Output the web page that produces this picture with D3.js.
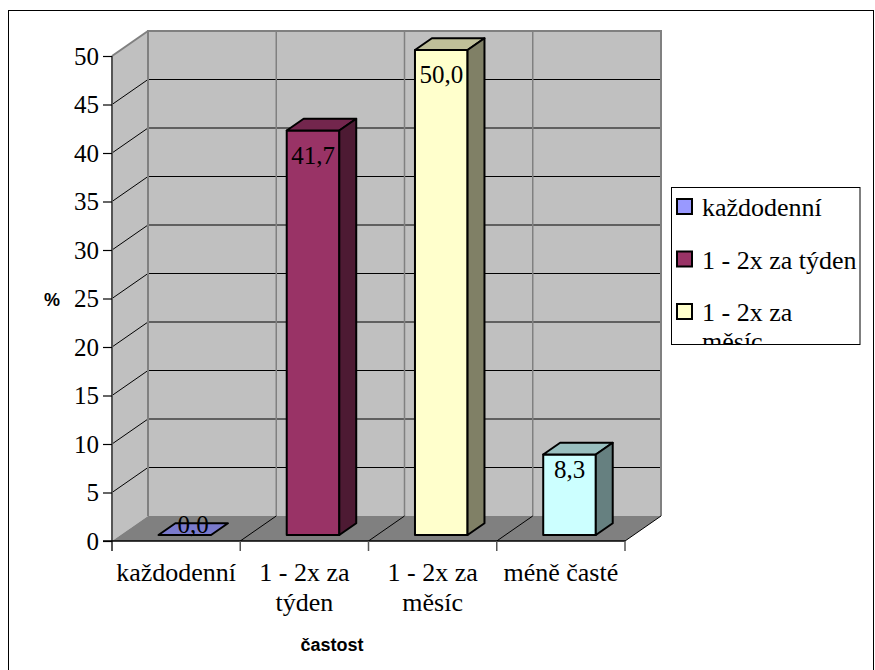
<!DOCTYPE html>
<html>
<head>
<meta charset="utf-8">
<script src="https://cdn.jsdelivr.net/npm/d3@7"></script>
<style>
  body { margin: 0; background: #fff; }
  svg { display: block; }
  .serif { font-family: 'Liberation Serif', 'Tinos', 'DejaVu Serif', serif; }
  .sans { font-family: 'Liberation Sans', Arial, sans-serif; font-weight: bold; }
</style>
</head>
<body>
<div id="chart"></div>
<script>
// data
const categories = ['každodenní', '1 - 2x za týden', '1 - 2x za měsíc', 'méně časté'];
const catLabels = [['každodenní'], ['1 - 2x za', 'týden'], ['1 - 2x za', 'měsíc'], ['méně časté']];
const values = [0.0, 41.7, 50.0, 8.3];
const colors = ['#9999ff', '#993366', '#ffffcc', '#ccffff'];
const yTicks = [0, 5, 10, 15, 20, 25, 30, 35, 40, 45, 50];

const width = 875, height = 670;

// 3d depth offset of walls
const DX = 36, DY = -25;
const t0 = 0.24, t1 = 0.71; // bar depth range

const svg = d3.select('#chart').append('svg')
  .attr('width', width)
  .attr('height', height);

// outer frame
svg.append('rect')
  .attr('x', 8.5).attr('y', 10.5)
  .attr('width', 865).attr('height', 700)
  .attr('fill', 'none').attr('stroke', '#000');

const x = d3.scaleBand().domain(categories).range([112, 625]);
const y = d3.scaleLinear().domain([0, 50]).range([541, 56]);

const P = (px, v, t) => [px + DX * t, y(v) + DY * t];
const pts = arr => arr.map(p => p.join(',')).join(' ');

const x0 = x.range()[0], x1 = x.range()[1];

// walls
const g = svg.append('g');
g.append('polygon') // side wall
  .attr('points', pts([P(x0, 0, 0), P(x0, 0, 1), P(x0, 50, 1), P(x0, 50, 0)]))
  .attr('fill', '#c0c0c0');
g.append('polygon') // back wall
  .attr('points', pts([P(x0, 0, 1), P(x1, 0, 1), P(x1, 50, 1), P(x0, 50, 1)]))
  .attr('fill', '#c0c0c0');

// gridlines
yTicks.filter(d => d > 0 && d < 50).forEach(d => {
  g.append('polyline')
    .attr('points', pts([P(x0, d, 0), P(x0, d, 1), P(x1, d, 1)]))
    .attr('fill', 'none').attr('stroke', '#000').attr('stroke-width', 1);
});
categories.slice(1).forEach(c => {
  g.append('line')
    .attr('x1', P(x(c), 0, 1)[0]).attr('y1', P(x(c), 0, 1)[1])
    .attr('x2', P(x(c), 50, 1)[0]).attr('y2', P(x(c), 50, 1)[1])
    .attr('stroke', '#808080').attr('stroke-width', 1.5);
});

// wall outlines
g.append('polyline')
  .attr('points', pts([P(x0, 0, 1), P(x0, 50, 1), P(x1, 50, 1), P(x1, 0, 1)]))
  .attr('fill', 'none').attr('stroke', '#808080').attr('stroke-width', 2);
g.append('line')
  .attr('x1', P(x0, 50, 0)[0]).attr('y1', P(x0, 50, 0)[1])
  .attr('x2', P(x0, 50, 1)[0]).attr('y2', P(x0, 50, 1)[1])
  .attr('stroke', '#808080').attr('stroke-width', 2);

// floor
g.append('polygon')
  .attr('points', pts([P(x0, 0, 0), P(x1, 0, 0), P(x1, 0, 1), P(x0, 0, 1)]))
  .attr('fill', '#808080');
categories.slice(1).concat([null]).forEach(c => {
  const xx = c ? x(c) : x1;
  g.append('line')
    .attr('x1', P(xx, 0, 0)[0]).attr('y1', P(xx, 0, 0)[1])
    .attr('x2', P(xx, 0, 1)[0]).attr('y2', P(xx, 0, 1)[1])
    .attr('stroke', '#000').attr('stroke-width', 1);
});

// axes
g.append('line')
  .attr('x1', x0).attr('x2', x0).attr('y1', y(50)).attr('y2', y(0) + 10)
  .attr('stroke', '#555').attr('stroke-width', 2);
g.append('line')
  .attr('x1', x0 - 9).attr('x2', x1).attr('y1', y(0)).attr('y2', y(0))
  .attr('stroke', '#000').attr('stroke-width', 1.5);
categories.slice(1).concat([null]).forEach(c => {
  const xx = c ? x(c) : x1;
  g.append('line')
    .attr('x1', xx).attr('x2', xx).attr('y1', y(0)).attr('y2', y(0) + 10)
    .attr('stroke', '#555').attr('stroke-width', 1.5);
});

const yAxis = svg.append('g')
  .attr('transform', `translate(${x0},0)`)
  .call(d3.axisLeft(y).tickValues(yTicks).tickSize(9).tickPadding(4).tickFormat(d3.format('d')));
yAxis.attr('font-family', null).attr('font-size', null);
yAxis.select('.domain').remove();
yAxis.selectAll('.tick line').attr('stroke', '#000').attr('stroke-width', 1.2);
yAxis.selectAll('.tick text')
  .attr('class', 'serif').style('font-size', '25px').attr('fill', '#000')
  .attr('dy', '0.33em');

// bars
const shade = (c, k) => { const r = d3.rgb(c); return d3.rgb(r.r * k, r.g * k, r.b * k).toString(); };
const bw = x.bandwidth() * 0.41;
const bars = svg.append('g');
const valueLabel = (tx, ty, v) => bars.append('text')
  .attr('class', 'serif')
  .attr('x', tx).attr('y', ty)
  .attr('text-anchor', 'middle')
  .style('font-size', '25px')
  .text(d3.format('.1f')(v).replace('.', ','));

categories.forEach((c, i) => {
  const v = values[i];
  const bl = x(c) + (x.bandwidth() - bw) / 2, br = bl + bw;
  const face = (p, fill) => bars.append('polygon').attr('points', pts(p)).attr('fill', fill)
    .attr('stroke', '#000').attr('stroke-width', 2).attr('stroke-linejoin', 'round');
  if (v > 0) {
    face([P(bl, 0, t0), P(br, 0, t0), P(br, v, t0), P(bl, v, t0)], colors[i]);
    face([P(bl, v, t0), P(br, v, t0), P(br, v, t1), P(bl, v, t1)], shade(colors[i], 0.75));
    face([P(br, 0, t0), P(br, 0, t1), P(br, v, t1), P(br, v, t0)], shade(colors[i], 0.5));
    valueLabel((bl + br) / 2 + DX * t0, P(bl, v, t0)[1] + (v > 20 ? 33 : 24), v);
  } else {
    face([P(bl, 0, t0), P(br, 0, t0), P(br, 0, t1), P(bl, 0, t1)], shade(colors[i], 0.8));
    const tm = (t0 + t1) / 2;
    valueLabel((bl + br) / 2 + DX * tm, P(bl, 0, tm)[1] + 4, v);
  }
});

// category labels
categories.forEach((c, i) => {
  const cx = x(c) + x.bandwidth() / 2;
  const t = svg.append('text')
    .attr('class', 'serif')
    .attr('x', cx).attr('y', 581)
    .attr('text-anchor', 'middle')
    .style('font-size', '26px');
  catLabels[i].forEach((line, j) => {
    t.append('tspan').attr('x', cx).attr('dy', j ? 30 : 0).text(line);
  });
});

// axis titles
svg.append('text').attr('class', 'sans').attr('x', 52).attr('y', 306).attr('text-anchor', 'middle')
  .style('font-size', '18px').text('%');
svg.append('text').attr('class', 'sans').attr('x', 332).attr('y', 651).attr('text-anchor', 'middle')
  .style('font-size', '18px').text('častost');

// legend
const legendItems = [['každodenní'], ['1 - 2x za týden'], ['1 - 2x za', 'měsíc']];
svg.append('clipPath').attr('id', 'legclip')
  .append('rect').attr('x', 671.5).attr('y', 187.5).attr('width', 188.5).attr('height', 157);
const leg = svg.append('g').attr('clip-path', 'url(#legclip)');
leg.append('rect').attr('x', 671.5).attr('y', 187.5).attr('width', 188.5).attr('height', 157)
  .attr('fill', '#fff');
legendItems.forEach((lines, i) => {
  const by = 216 + i * 52.5;
  leg.append('rect').attr('x', 677).attr('y', by - 17).attr('width', 15).attr('height', 15)
    .attr('fill', colors[i]).attr('stroke', '#000').attr('stroke-width', 2);
  const t = leg.append('text').attr('class', 'serif').attr('x', 702).attr('y', by)
    .style('font-size', '26px');
  lines.forEach((line, j) => t.append('tspan').attr('x', 702).attr('dy', j ? 29 : 0).text(line));
});
svg.append('rect').attr('x', 671.5).attr('y', 187.5).attr('width', 188.5).attr('height', 157)
  .attr('fill', 'none').attr('stroke', '#000');
</script>
</body>
</html>
